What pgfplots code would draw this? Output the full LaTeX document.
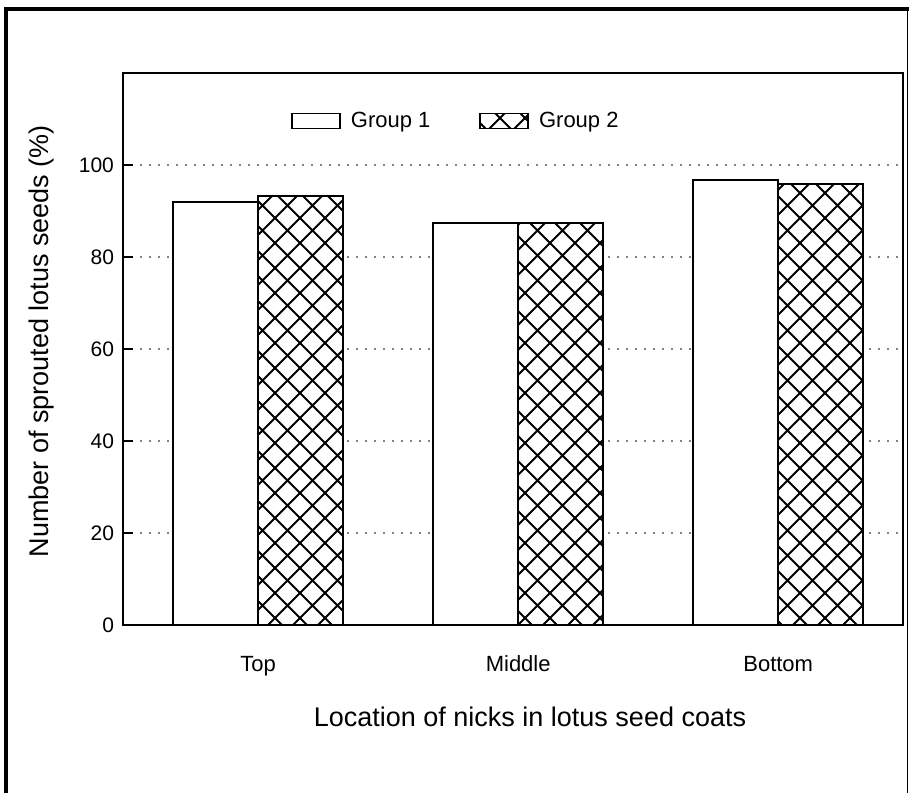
\documentclass[border=0pt]{standalone}
\usepackage{fontspec}
\setmainfont{Liberation Sans}
\usepackage{pgfplots}
\pgfplotsset{compat=1.18}
\usetikzlibrary{patterns}
\pgfdeclarepatternformonly{bigcross}{\pgfqpoint{-0.5pt}{-0.5pt}}{\pgfqpoint{13pt}{13pt}}{\pgfqpoint{12.5pt}{12.5pt}}{%
  \pgfsetlinewidth{0.9pt}%
  \pgfpathmoveto{\pgfqpoint{0pt}{0pt}}\pgfpathlineto{\pgfqpoint{12.5pt}{12.5pt}}%
  \pgfpathmoveto{\pgfqpoint{0pt}{12.5pt}}\pgfpathlineto{\pgfqpoint{12.5pt}{0pt}}%
  \pgfusepath{stroke}}
\begin{document}
\begin{tikzpicture}
\useasboundingbox (0,0) rectangle (454.5pt,396.5pt);
\draw[line width=2pt] (3pt,0pt) -- (3pt,392pt) -- (454.5pt,392pt);
\draw[line width=0.8pt] (453.8pt,392pt) -- (453.8pt,0pt);
\begin{axis}[
  at={(61.5pt,84pt)}, anchor=south west, scale only axis,
  width=390pt, height=276pt,
  ymin=0, ymax=120, xmin=-0.52, xmax=2.48,
  xtick={0,1,2}, xticklabels={Top,Middle,Bottom},
  xtick style={draw=none},
  ytick={0,20,40,60,80,100}, ytick pos=left, tick align=inside,
  major tick length=5pt,
  ymajorgrids,
  grid style={line width=0.9pt, dash pattern=on 0pt off 4.5pt, line cap=round, black},
  axis line style={line width=0.75pt},
  every tick/.style={line width=0.75pt, black},
  ybar=0pt, bar width=42.5pt,
  /pgf/number format/assume math mode=true,
  tick label style={font=\fontsize{10.5}{12}\selectfont},
  yticklabel style={xshift=-1pt},
  xticklabel style={yshift=-7pt, text height=0.75em, text depth=0.22em, font=\fontsize{11}{13}\selectfont},
  ylabel={Number of sprouted lotus seeds (\%)},
  xlabel={Location of nicks in lotus seed coats},
  label style={font=\fontsize{13.5}{16}\selectfont},
  ylabel style={at={(axis description cs:-0.104,0.514)}, anchor=center},
  xlabel style={at={(axis description cs:0.5,0)}, anchor=center, yshift=-46pt, xshift=8.5pt},
  legend style={at={(axis description cs:0.432,0.913)}, anchor=center, draw=none,
    font=\fontsize{11}{13}\selectfont, legend columns=2,
    nodes={inner xsep=5pt},
    /tikz/every even column/.append style={column sep=19.5pt}},
  legend image code/.code={\draw[#1] (0pt,-3.75pt) rectangle (24pt,3.75pt);},
]
\addplot[draw=black, line width=0.8pt, fill=white] coordinates {(0,92.0) (1,87.4) (2,96.7)};
\addplot[draw=black, line width=0.8pt, fill=white, postaction={pattern=bigcross, pattern color=black}] coordinates {(0,93.3) (1,87.4) (2,95.9)};
\legend{Group 1, Group 2}
\end{axis}
\end{tikzpicture}
\end{document}
